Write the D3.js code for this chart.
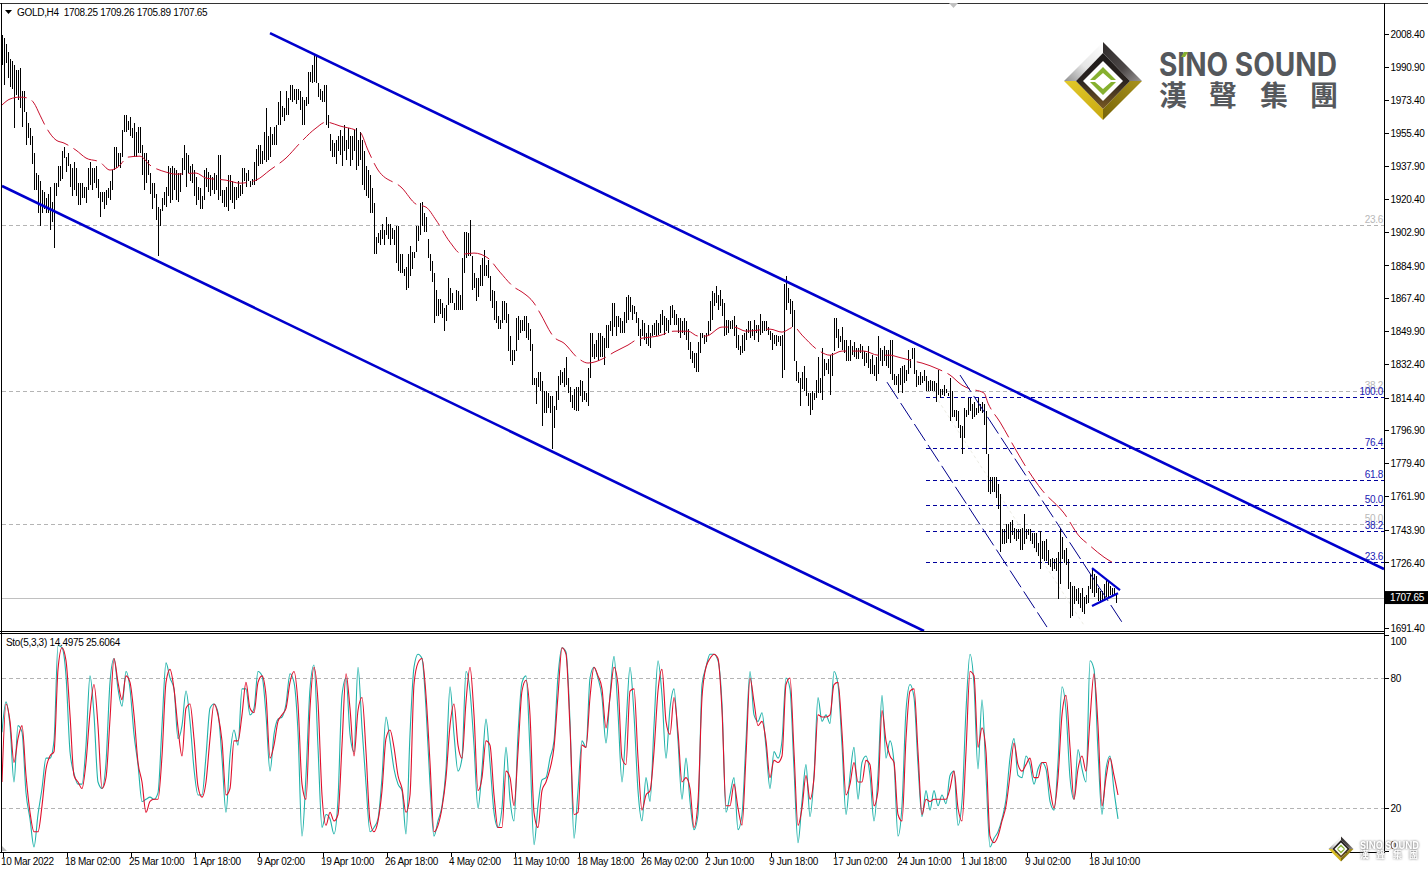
<!DOCTYPE html>
<html><head><meta charset="utf-8">
<script src="https://cdnjs.cloudflare.com/ajax/libs/d3/7.8.5/d3.min.js"></script>
<style>html,body{margin:0;padding:0;background:#fff;overflow:hidden}svg{display:block}
text{font-family:"Liberation Sans",Arial,sans-serif;font-size:10px;letter-spacing:-0.3px;fill:#000}</style></head><body>
<svg id="c" width="1428" height="871"></svg>
<script>
const symbolTitle="GOLD,H4  1708.25 1709.26 1705.89 1707.65";
const stochTitle="Sto(5,3,3) 14.4975 25.6064";
const priceTicks=[2008.4,1990.9,1973.4,1955.4,1937.9,1920.4,1902.9,1884.9,1867.4,1849.9,1832.4,1814.4,1796.9,1779.4,1761.9,1743.9,1726.4,1691.4];
const stochTicks=[100,80,20,0];
const stochLevels=[80,20];
const timeTickBars=[0,32,64,96,128,160,192,224,256,288,320,352,384,416,448,480,512,544];
const timeLabels=["10 Mar 2022","18 Mar 02:00","25 Mar 10:00","1 Apr 18:00","9 Apr 02:00","19 Apr 10:00","26 Apr 18:00","4 May 02:00","11 May 10:00","18 May 18:00","26 May 02:00","2 Jun 10:00","9 Jun 18:00","17 Jun 02:00","24 Jun 10:00","1 Jul 18:00","9 Jul 02:00","18 Jul 10:00"];
const bidPrice=1707.65;
const highs=[2008,2006,2003,1999,1995,1994,1992,1989,1989,1990,
1978,1978,1967,1961,1958,1954,1945,1934,1933,1930,
1925,1924,1921,1923,1927,1919,1929,1929,1938,1938,
1946,1948,1943,1945,1939,1937,1940,1937,1929,1929,
1929,1927,1927,1937,1940,1937,1937,1938,1931,1924,
1924,1924,1925,1926,1930,1936,1948,1948,1945,1945,
1957,1965,1965,1962,1964,1958,1961,1956,1959,1959,
1949,1945,1945,1941,1934,1929,1929,1923,1916,1915,
1921,1924,1927,1938,1937,1938,1937,1936,1934,1934,
1942,1949,1945,1944,1938,1939,1936,1932,1927,1926,
1922,1936,1937,1935,1933,1932,1934,1933,1944,1944,
1925,1925,1927,1933,1933,1930,1927,1927,1930,1928,
1937,1937,1934,1936,1930,1931,1940,1947,1949,1949,
1946,1956,1969,1954,1959,1955,1959,1960,1972,1978,
1970,1969,1978,1974,1981,1981,1979,1979,1979,1978,
1975,1973,1975,1988,1988,1992,1997,1997,1982,1979,
1978,1981,1981,1965,1955,1952,1950,1952,1954,1957,
1954,1960,1952,1958,1954,1954,1957,1958,1952,1956,
1952,1946,1938,1936,1933,1926,1918,1900,1902,1904,
1907,1904,1911,1907,1907,1905,1904,1906,1906,1891,
1891,1883,1884,1891,1895,1892,1892,1906,1906,1918,
1919,1913,1911,1899,1891,1887,1881,1872,1867,1867,
1865,1862,1864,1878,1873,1870,1865,1872,1871,1869,
1889,1903,1903,1902,1909,1890,1881,1878,1878,1885,
1889,1893,1885,1888,1879,1872,1871,1866,1858,1856,
1866,1866,1865,1859,1847,1840,1840,1857,1858,1856,
1856,1858,1858,1854,1851,1843,1825,1825,1828,1828,
1823,1818,1818,1817,1815,1815,1810,1818,1826,1829,
1828,1830,1836,1825,1820,1816,1819,1820,1820,1824,
1823,1818,1817,1830,1849,1849,1843,1845,1849,1849,
1847,1846,1853,1853,1855,1865,1865,1858,1858,1857,
1855,1860,1868,1869,1868,1864,1863,1860,1857,1851,
1856,1854,1849,1853,1849,1853,1854,1856,1854,1859,
1861,1858,1857,1856,1863,1864,1861,1859,1857,1857,
1855,1857,1855,1851,1844,1839,1838,1838,1844,1849,
1849,1848,1849,1855,1866,1871,1870,1874,1869,1872,
1867,1865,1856,1856,1855,1856,1858,1853,1848,1842,
1848,1849,1851,1855,1855,1851,1856,1853,1853,1859,
1855,1855,1855,1852,1850,1849,1848,1848,1847,1847,
1848,1875,1879,1873,1867,1866,1861,1834,1828,1825,
1828,1831,1825,1817,1817,1818,1817,1824,1836,1825,
1841,1835,1833,1835,1837,1838,1857,1857,1851,1847,
1852,1845,1845,1842,1845,1842,1844,1841,1841,1843,
1842,1839,1838,1842,1835,1837,1832,1836,1847,1841,
1840,1842,1840,1840,1845,1845,1827,1826,1827,1830,
1831,1832,1829,1840,1835,1841,1841,1829,1826,1828,
1826,1829,1826,1823,1824,1823,1823,1822,1829,1819,
1819,1821,1819,1817,1825,1818,1808,1808,1807,1800,
1799,1809,1808,1814,1814,1811,1812,1809,1814,1811,
1812,1811,1807,1784,1772,1772,1772,1772,1768,1763,
1744,1744,1747,1747,1748,1749,1745,1744,1744,1744,
1745,1752,1744,1744,1744,1742,1742,1742,1737,1743,
1738,1738,1739,1733,1728,1729,1728,1729,1732,1745,
1740,1733,1734,1728,1716,1714,1714,1712,1713,1710,
1713,1708,1709,1714,1720,1723,1720,1719,1713,1711,
1711,1715,1717,1716,1714,1713,1713,1710];
const lows=[1992,1981,1993,1985,1980,1979,1958,1976,1973,1969,
1959,1967,1949,1953,1949,1939,1925,1925,1913,1906,
1913,1915,1913,1913,1904,1908,1894,1922,1927,1930,
1931,1942,1935,1938,1927,1922,1925,1922,1917,1917,
1921,1921,1918,1925,1928,1925,1929,1926,1921,1911,
1919,1915,1917,1921,1920,1925,1936,1937,1938,1937,
1943,1956,1956,1957,1954,1953,1943,1943,1945,1945,
1933,1925,1929,1933,1923,1915,1921,1909,1890,1906,
1914,1917,1916,1922,1918,1920,1925,1920,1919,1924,
1933,1936,1927,1934,1930,1929,1922,1917,1920,1915,
1915,1920,1927,1924,1922,1925,1923,1925,1920,1922,
1918,1916,1916,1914,1920,1918,1915,1920,1921,1922,
1923,1930,1927,1930,1927,1928,1928,1930,1938,1939,
1939,1941,1940,1941,1943,1949,1949,1949,1960,1960,
1964,1962,1965,1965,1973,1972,1973,1971,1973,1968,
1960,1960,1970,1971,1983,1982,1983,1982,1975,1973,
1972,1972,1960,1958,1946,1943,1943,1939,1946,1944,
1938,1946,1941,1947,1938,1941,1946,1936,1938,1941,
1928,1925,1922,1921,1913,1913,1891,1891,1897,1896,
1899,1896,1901,1899,1896,1899,1896,1886,1882,1881,
1881,1879,1872,1873,1879,1883,1889,1892,1898,1901,
1906,1903,1903,1889,1882,1876,1854,1858,1858,1859,
1857,1850,1855,1864,1865,1865,1861,1861,1861,1861,
1861,1881,1889,1890,1890,1872,1873,1866,1868,1874,
1874,1879,1879,1878,1866,1862,1856,1854,1851,1851,
1854,1856,1854,1839,1834,1832,1834,1839,1845,1849,
1850,1850,1846,1845,1839,1821,1821,1811,1820,1818,
1799,1806,1806,1809,1806,1787,1798,1808,1813,1821,
1822,1820,1821,1817,1812,1809,1808,1807,1807,1815,
1812,1813,1812,1810,1825,1836,1835,1836,1834,1836,
1836,1832,1841,1841,1850,1847,1852,1847,1852,1849,
1849,1849,1854,1856,1860,1856,1859,1854,1847,1842,
1847,1845,1843,1842,1841,1847,1848,1847,1848,1849,
1853,1848,1850,1849,1853,1857,1853,1853,1849,1846,
1849,1848,1845,1840,1835,1833,1830,1828,1828,1838,
1846,1843,1844,1848,1850,1856,1863,1865,1861,1863,
1858,1847,1848,1849,1851,1851,1847,1841,1840,1837,
1838,1839,1845,1849,1846,1847,1845,1849,1844,1848,
1849,1850,1850,1848,1845,1840,1843,1842,1844,1842,
1825,1829,1861,1865,1859,1852,1834,1823,1822,1810,
1819,1818,1815,1810,1805,1808,1813,1814,1817,1817,
1813,1826,1829,1827,1816,1826,1839,1846,1841,1844,
1840,1838,1834,1834,1834,1837,1836,1835,1835,1838,
1835,1831,1833,1830,1827,1827,1826,1823,1827,1834,
1831,1834,1831,1830,1827,1824,1821,1821,1817,1821,
1817,1822,1823,1827,1830,1835,1827,1820,1821,1821,
1822,1823,1818,1818,1818,1818,1818,1812,1816,1814,
1816,1815,1817,1815,1802,1804,1804,1802,1798,1793,
1784,1793,1804,1805,1807,1803,1804,1805,1806,1807,
1806,1800,1784,1764,1763,1764,1764,1761,1755,1732,
1736,1736,1737,1739,1737,1741,1739,1738,1739,1733,
1733,1736,1739,1741,1738,1736,1734,1732,1730,1723,
1728,1727,1727,1725,1724,1722,1723,1722,1707,1715,
1728,1726,1725,1712,1697,1698,1704,1706,1704,1702,
1700,1699,1704,1705,1712,1710,1708,1710,1706,1705,
1706,1706,1708,1708,1709,1708,1709,1705];
const maBars=[0,4,9,13,16,19,22,27,31,37,42,49,54,58,63,69,74,82,87,97,102,112,119,127,134,142,149,157,162,169,179,183,188,200,207,212,217,224,230,236,243,249,256,260,266,269,276,281,288,293,301,306,313,318,324,328,336,343,348,352,360,366,372,384,390,396,400,408,414,420,431,438,444,448,456,460,468,474,480,483,491,493,499,507,512,520,531,539,543,551,555];
const maPrices=[1970.5,1973.7,1974.7,1974.2,1971.5,1965.1,1958.7,1951.8,1950.2,1946.4,1942.2,1940,1935.8,1937.4,1942.7,1943.2,1938.4,1934.7,1933.6,1934.2,1931.5,1930.4,1928.8,1930.4,1935.8,1942.2,1950.2,1958.2,1961.4,1959.3,1956,1946.4,1935.8,1926.2,1917.6,1916,1909.1,1897.3,1890.9,1891.5,1888.8,1881.3,1873.3,1870.7,1864.8,1859.5,1846.6,1843.4,1835.4,1832.8,1835.4,1838.6,1842.4,1845.6,1846.6,1847.2,1849.8,1849.8,1847.2,1847.2,1852,1852,1849.8,1850.9,1849.3,1852,1847.7,1839.7,1837,1839.2,1839.2,1837,1837,1836,1833.8,1832.8,1829.6,1826.4,1821,1819.4,1816.8,1811.4,1801.3,1786.3,1777.3,1765,1752.7,1739.9,1736.2,1729.2,1726.5];
const stochMain=[55,69,58,32,58,55,27,15,2,17,
29,43,43,51,95,94,81,46,36,31,
31,49,81,63,32,29,41,78,89,75,
67,83,75,54,40,23,24,25,24,27,
58,87,80,75,52,58,74,60,38,26,
26,44,66,68,64,43,18,44,56,49,
75,75,63,66,83,81,63,37,54,61,
62,68,82,78,55,7,35,75,86,48,
11,17,15,8,24,
72,80,54,46,85,57,31,9,11,15,
34,62,51,38,31,28,8,54,85,91,
89,66,31,7,14,21,38,76,54,37,
43,83,74,49,20,38,61,41,18,11,
20,48,24,14,54,78,81,46,3,21,
33,34,43,51,81,94,92,60,6,28,
51,48,80,85,80,71,50,72,90,64,
32,58,85,63,28,14,34,23,58,88,
72,43,66,75,51,
24,43,23,10,17,77,85,91,91,88,
68,18,26,34,10,17,51,83,63,60,
64,48,29,46,43,51,80,75,38,4,
23,40,16,35,71,60,63,59,83,77,
49,17,35,48,24,41,44,35,14,35,
72,43,51,41,7,21,65,77,71,40,
16,28,19,28,21,26,22,35,37,12,
23,65,91,77,38,70,35,2,6,9,
15,24,43,52,35,
34,44,40,31,38,41,38,23,19,41,
76,65,34,24,47,38,32,88,84,46,
17,38,44,28,15];
const stochSignal=[32,68,60,41,52,58,35,18,9,9,
21,38,44,46,84,94,88,63,35,32,
29,41,64,77,58,29,34,61,89,78,
70,81,78,63,41,32,18,23,24,24,
44,78,84,75,57,44,66,68,52,30,
25,32,52,68,63,51,26,29,51,51,
63,78,66,64,78,81,72,43,49,60,
63,66,78,83,68,31,24,66,85,69,
26,12,18,14,17,
49,82,66,44,65,71,46,14,9,14,
28,52,56,48,35,29,18,26,77,87,
89,72,41,9,12,20,34,58,68,49,
43,69,85,63,28,34,51,49,26,11,
11,37,34,21,46,74,79,63,18,11,
28,32,38,48,72,94,91,57,17,18,
49,48,71,85,81,75,57,71,85,77,
43,40,74,75,43,19,26,28,46,74,
84,60,54,71,55,
32,34,29,11,23,71,85,89,91,89,
65,21,21,31,20,12,44,80,69,58,
60,51,34,42,41,44,77,80,46,12,
20,35,24,34,63,62,62,63,77,78,
55,26,31,41,32,32,42,40,21,28,
65,51,44,41,17,14,52,74,75,46,
17,24,23,24,24,24,24,29,37,20,
14,46,83,81,48,57,46,7,4,7,
14,21,35,50,40,
37,40,43,34,34,41,41,29,20,34,63,72,48,24,38,44,37,61,82,58,21,34,43,35,26];
const grayFibLevels=[1906.3,1818.0,1746.7];
const grayFibLabels=["23.6","38.2","50.0"];
const blueFibLevels=[1814.5,1787.3,1770.2,1756.9,1743.0,1726.5];
const blueFibLabels=["100.0","76.4","61.8","50.0","38.2","23.6"];
const fibStartBar=462, axisEndBar=691;
const channelBars=[[134,691],[0,461]];
const channelPrices=[[2008.9,1722.9],[1927.3,1689.8]];
const thinBars=[[479,560],[442.5,522.5]];
const thinPrices=[[1826.4,1694.5],[1822.6,1691.9]];
const paleBars=[461.5,541], palePrices=[1823.7,1692.9];
const triBars=[[545,559],[545,558]];
const triPrices=[[1723.4,1711.6],[1703.1,1710]];

const svg=d3.select("#c");
const W=1428,H=871,axisX=1384;
const x=d3.scaleLinear().domain([0,axisEndBar]).range([2,axisX]);
const y=d3.scaleLinear().domain([2008.4,1691.4]).range([34,628]);
const s=d3.scaleLinear().domain([100,0]).range([634.7,851.3]);
const stochIdx=stochMain.map((_,k)=>k*2);

const defs=svg.append("defs");
defs.append("clipPath").attr("id","mainClip").append("rect").attr("x",2).attr("y",4).attr("width",axisX-2).attr("height",627);
defs.append("clipPath").attr("id","subClip").append("rect").attr("x",2).attr("y",634).attr("width",axisX-2).attr("height",218);
function grad(id,x1,y1,x2,y2,stops){const g=defs.append("linearGradient").attr("id",id).attr("x1",x1).attr("y1",y1).attr("x2",x2).attr("y2",y2);
 stops.forEach(a=>g.append("stop").attr("offset",a[0]).attr("stop-color",a[1]));}
grad("gTL",0,1,1,0,[[0,"#8f8f8f"],[.45,"#e6e6e6"],[1,"#ffffff"]]);
grad("gTR",0,0,1,1,[[0,"#2e2a2a"],[.6,"#4d4848"],[1,"#9a9696"]]);
grad("gBL",0,0,1,1,[[0,"#e3c92a"],[1,"#c8a912"]]);
grad("gBR",1,0,0,1,[[0,"#a8921c"],[1,"#776408"]]);
grad("gIn",0,0,0,1,[[0,"#1d1a1a"],[.5,"#2a2320"],[1,"#7a5a22"]]);

svg.append("rect").attr("width",W).attr("height",H).attr("fill","#fff");

const main=svg.append("g").attr("clip-path","url(#mainClip)");
const crisp=g=>g.attr("shape-rendering","crispEdges");
main.append("g").call(crisp).selectAll("line").data(grayFibLevels).join("line")
 .attr("x1",x(0)).attr("x2",axisX).attr("y1",d=>Math.round(y(d))+.5).attr("y2",d=>Math.round(y(d))+.5)
 .attr("stroke","#b4b4b4").attr("stroke-dasharray","4 3");
main.append("line").attr("x1",2).attr("x2",axisX).attr("y1",Math.round(y(bidPrice))+.5).attr("y2",Math.round(y(bidPrice))+.5).attr("stroke","#c0c0c0").call(crisp);
main.append("g").call(crisp).selectAll("line").data(blueFibLevels).join("line")
 .attr("x1",x(fibStartBar)).attr("x2",axisX).attr("y1",d=>Math.round(y(d))+.5).attr("y2",d=>Math.round(y(d))+.5)
 .attr("stroke","#00009c").attr("stroke-dasharray","4 3");
main.append("line").attr("x1",x(paleBars[0])).attr("x2",x(paleBars[1])).attr("y1",y(palePrices[0])).attr("y2",y(palePrices[1])).attr("stroke","#ecece4").attr("stroke-dasharray","3 3");
main.append("g").call(crisp).selectAll("line").data(highs).join("line")
 .attr("x1",(d,i)=>x(i)+.5).attr("x2",(d,i)=>x(i)+.5).attr("y1",d=>y(d)).attr("y2",(d,i)=>y(lows[i]))
 .attr("stroke","#000").attr("stroke-width",1);
const maLine=d3.line().x(d=>x(d[0])).y(d=>y(d[1])).curve(d3.curveMonotoneX);
main.append("path").attr("d",maLine(maBars.map((b,i)=>[b,maPrices[i]]))).attr("fill","none").attr("stroke","#c8102e").attr("stroke-width",1).attr("stroke-dasharray","27 6");
thinBars.forEach((b,k)=>main.append("line").attr("x1",x(b[0])).attr("x2",x(b[1])).attr("y1",y(thinPrices[k][0])).attr("y2",y(thinPrices[k][1])).attr("stroke","#00008b").attr("stroke-width",1).attr("stroke-dasharray","20 5"));
channelBars.forEach((b,k)=>main.append("line").attr("x1",x(b[0])).attr("x2",x(b[1])).attr("y1",y(channelPrices[k][0])).attr("y2",y(channelPrices[k][1])).attr("stroke","#0000cd").attr("stroke-width",2.6));
triBars.forEach((b,k)=>main.append("line").attr("x1",x(b[0])).attr("x2",x(b[1])).attr("y1",y(triPrices[k][0])).attr("y2",y(triPrices[k][1])).attr("stroke","#0000cd").attr("stroke-width",2.2));
grayFibLevels.forEach((v,i)=>main.append("text").attr("x",axisX-1).attr("y",y(v)-2).attr("text-anchor","end").style("fill","#b8b8b8").text(grayFibLabels[i]));
blueFibLevels.forEach((v,i)=>main.append("text").attr("x",axisX-1).attr("y",y(v)-2).attr("text-anchor","end").style("fill","#1a1ab4").text(blueFibLabels[i]));

function drawLogo(cx,cy,r,parent){
 const g=parent.append("g").attr("transform",`translate(${cx},${cy}) scale(${r/39})`);
 const p=(pts,f)=>g.append("polygon").attr("points",pts.map(a=>a.join(",")).join(" ")).attr("fill",f);
 p([[-39,0],[0,-39],[0,-28],[-27,0]],"url(#gTL)");
 p([[39,0],[0,-39],[0,-28],[27,0]],"url(#gTR)");
 p([[-39,0],[0,39],[0,28],[-27,0]],"url(#gBL)");
 p([[39,0],[0,39],[0,28],[27,0]],"url(#gBR)");
 p([[-27,0],[0,-28],[27,0],[0,28]],"url(#gIn)");
 p([[-20,0],[0,-20],[20,0],[0,20]],"#fff");
 p([[-13,-1],[0,-14],[13,-1],[8,-1],[0,-8],[-8,-1]],"#86b02f");
 p([[-13,1],[0,14],[13,1],[8,1],[0,8],[-8,1]],"#86b02f");
 return g;
}
drawLogo(1103,81,39,svg);
svg.append("text").attr("x",1159).attr("y",76).attr("textLength",178).attr("lengthAdjust","spacingAndGlyphs")
 .style("font-size","32px").style("font-weight","700").style("letter-spacing","0").style("font-family","Inter,'Liberation Sans',sans-serif").style("fill","#55585c").text("SINO SOUND");
svg.append("polygon").attr("points","1181,57 1184,52 1188,52 1185,57").attr("fill","#86b02f");
[["漢",1159],["聲",1209],["集",1260],["團",1310]].forEach(a=>svg.append("text").attr("x",a[1]).attr("y",106)
 .style("font-size","28px").style("font-weight","700").style("letter-spacing","0").style("font-family","'Noto Sans CJK TC'").style("fill","#55585c").text(a[0]));

const sub=svg.append("g").attr("clip-path","url(#subClip)");
sub.append("g").call(crisp).selectAll("line").data(stochLevels).join("line").attr("x1",2).attr("x2",axisX)
 .attr("y1",d=>Math.round(s(d))+.5).attr("y2",d=>Math.round(s(d))+.5).attr("stroke","#b4b4b4").attr("stroke-dasharray","4 3");
const sl=d3.line().x((d,i)=>x(stochIdx[i])).y(d=>s(d)).curve(d3.curveMonotoneX);
sub.append("path").attr("d",sl(stochMain)).attr("fill","none").attr("stroke","#20b2aa").attr("stroke-width",1.1);
sub.append("path").attr("d",sl(stochSignal)).attr("fill","none").attr("stroke","#e00f2b").attr("stroke-width",1.1);

const frame=svg.append("g").call(crisp).attr("stroke","#000").attr("fill","none");
frame.append("line").attr("x1",0).attr("x2",W).attr("y1",3.5).attr("y2",3.5).attr("stroke","#333");
frame.append("line").attr("x1",1.5).attr("x2",1.5).attr("y1",3).attr("y2",852);
frame.append("line").attr("x1",0).attr("x2",axisX).attr("y1",631.5).attr("y2",631.5);
frame.append("line").attr("x1",0).attr("x2",axisX).attr("y1",633.5).attr("y2",633.5);
frame.append("line").attr("x1",0).attr("x2",axisX).attr("y1",852.5).attr("y2",852.5);
frame.append("line").attr("x1",axisX+.5).attr("x2",axisX+.5).attr("y1",3).attr("y2",853);

const ay=svg.append("g").attr("transform",`translate(${axisX+.5},0)`).call(d3.axisRight(y).tickValues(priceTicks).tickSize(4).tickPadding(2).tickFormat(d3.format(".2f")));
const as=svg.append("g").attr("transform",`translate(${axisX+.5},0)`).call(d3.axisRight(s).tickValues(stochTicks).tickSize(4).tickPadding(2).tickFormat(d=>d));
[ay,as].forEach(a=>{a.select(".domain").remove();a.selectAll("text").style("font-family",'"Liberation Sans"').style("font-size","10px").attr("dy","0.36em");a.selectAll("line").attr("shape-rendering","crispEdges");});
as.selectAll("text").attr("dy",d=>d===100?"0.95em":d===0?"-0.25em":"0.36em");
const ax=svg.append("g").attr("transform","translate(0.5,852.5)").call(d3.axisBottom(x).tickValues(timeTickBars).tickSize(4).tickPadding(3).tickFormat((d,i)=>timeLabels[i]));
ax.select(".domain").remove();
ax.selectAll("line").attr("shape-rendering","crispEdges");
ax.selectAll("text").attr("text-anchor","start").attr("x",-2).attr("y",5).style("font-family",'"Liberation Sans"').style("font-size","10px");

svg.append("rect").attr("x",axisX+1).attr("y",y(bidPrice)-6.5).attr("width",43).attr("height",13).attr("fill","#000");
svg.append("text").attr("x",axisX+6).attr("y",y(bidPrice)+3.5).style("fill","#fff").text(d3.format(".2f")(bidPrice));

svg.append("polygon").attr("points","5,10 12,10 8.5,14").attr("fill","#000");
svg.append("text").attr("x",17).attr("y",15.5).style("white-space","pre").text(symbolTitle);
svg.append("text").attr("x",6).attr("y",645.5).style("white-space","pre").text(stochTitle);
svg.append("polygon").attr("points","949,3 958,3 953.5,8").attr("fill","#c0c0c0");
svg.append("polygon").attr("points","2,846 2,851 7,851").attr("fill","#bbb");

drawLogo(1341,849,12.5,svg);
const wm=svg.append("g").style("filter","drop-shadow(0 0 1.2px #666)");
wm.append("text").attr("x",1360).attr("y",849).attr("textLength",59).attr("lengthAdjust","spacingAndGlyphs")
 .style("font-size","11px").style("font-weight","700").style("letter-spacing","0").style("font-family","Inter,'Liberation Sans'").style("fill","#fff").text("SINO SOUND");
[["漢",1360],["聲",1376],["集",1393],["團",1409]].forEach(a=>wm.append("text").attr("x",a[1]).attr("y",858)
 .style("font-size","9px").style("font-weight","700").style("letter-spacing","0").style("font-family","'Noto Sans CJK TC'").style("fill","#fff").text(a[0]));
</script></body></html>
